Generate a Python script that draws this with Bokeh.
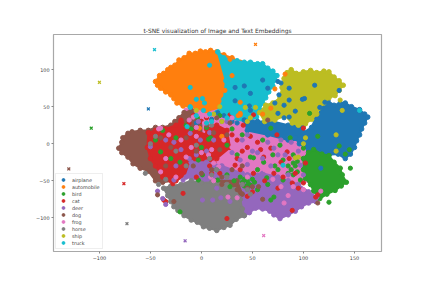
from bokeh.plotting import figure
from bokeh.embed import file_html
from bokeh.resources import INLINE
from bokeh.models import FixedTicker, Legend, LegendItem, Range1d

classes = ["airplane","automobile","bird","cat","deer","dog","frog","horse","ship","truck"]
colors = {"airplane":"#1f77b4","automobile":"#ff7f0e","bird":"#2ca02c","cat":"#d62728","deer":"#9467bd",
          "dog":"#8c564b","frog":"#e377c2","horse":"#7f7f7f","ship":"#bcbd22","truck":"#17becf"}
x_ticks = [-100,-50,0,50,100,150]
y_ticks = [-100,-50,0,50,100]

# dense regions of the point cloud (class, outline)
regions = [
 ("frog",[(-15,45),(10,48),(35,40),(50,32),(70,15),(100,5),(108,-20),(105,-50),(60,-60),(20,-55),(-5,-45),(-10,0)]),
 ("automobile",[(-45,84),(-41,92),(-37,95),(-33,100),(-30,103),(-26,106),(-22,113),(-17,116),(-12,122),(-6,122),(-1,125),(4,124),(9,126),(15,124),(22,120),(30,116),(38,110),(38,80),(35,60),(20,50),(5,44),(-5,48),(-11,50),(-18,51),(-24,55),(-27,61),(-30,66),(-35,70),(-40,75),(-43,79)]),
 ("truck",[(16,124),(22,116),(28,113),(35,112),(42,110),(48,110),(55,108),(60,108),(65,102),(70,98),(74,92),(72,86),(70,78),(66,70),(63,62),(60,55),(57,46),(54,36),(45,30),(30,34),(15,42),(22,60),(24,85)]),
 ("airplane",[(42,32),(55,30),(70,30),(85,25),(92,28),(100,25),(100,5),(85,5),(65,12),(45,18)]),
 ("airplane",[(124,58),(130,52),(136,55),(141,55),(147,50),(155,46),(160,40),(163,36),(160,28),(157,20),(155,12),(152,4),(150,-5),(146,-14),(141,-20),(134,-14),(125,-15),(115,-10),(105,-8),(96,0),(92,8),(100,15),(108,22),(112,35),(118,48)]),
 ("ship",[(84,96),(88,100),(93,95),(100,97),(107,99),(113,96),(120,98),(125,97),(130,90),(135,85),(139,79),(135,72),(131,65),(125,62),(120,55),(115,48),(113,40),(108,33),(102,27),(95,25),(89,28),(82,38),(72,32),(62,30),(57,42),(63,52),(70,55),(77,62),(79,76),(81,88)]),
 ("bird",[(100,-20),(105,-12),(110,-8),(118,-14),(125,-16),(130,-25),(136,-33),(138,-42),(142,-52),(137,-57),(131,-63),(123,-68),(116,-74),(110,-64),(107,-55),(102,-47),(100,-35)]),
 ("dog",[(-81,-6),(-78,2),(-77,8),(-72,14),(-68,16),(-60,18),(-52,18),(-45,22),(-38,22),(-30,25),(-26,30),(-22,35),(-17,42),(-10,45),(0,30),(0,0),(-20,-35),(-28,-50),(-38,-52),(-45,-50),(-52,-37),(-60,-33),(-67,-27),(-72,-18),(-78,-12)]),
 ("cat",[(-52,15),(-45,18),(-35,20),(-25,25),(-20,30),(-10,20),(5,12),(10,0),(12,-25),(0,-35),(-15,-42),(-25,-50),(-38,-45),(-45,-30),(-50,-20),(-53,-5)]),
 ("deer",[(35,-48),(45,-42),(60,-40),(75,-45),(85,-50),(95,-55),(105,-65),(113,-72),(112,-78),(105,-80),(98,-85),(92,-91),(85,-96),(77,-101),(71,-96),(67,-91),(60,-88),(53,-87),(47,-93),(42,-97),(38,-88),(36,-70)]),
 ("deer",[(-10,-25),(5,-25),(20,-30),(40,-40),(35,-50),(25,-55),(0,-50),(-15,-45)]),
 ("cat",[(5,20),(15,25),(25,18),(28,-5),(15,-20),(3,-15)]),
 ("dog",[(15,-50),(35,-50),(40,-68),(25,-70),(15,-62)]),
 ("horse",[(-37,-60),(-30,-57),(-20,-55),(-10,-50),(0,-53),(10,-52),(25,-55),(33,-62),(38,-75),(40,-88),(42,-97),(34,-102),(28,-110),(22,-113),(15,-117),(8,-114),(2,-112),(-4,-106),(-10,-103),(-17,-97),(-23,-90),(-27,-85),(-30,-78),(-33,-70)]),
]

# isolated points
strays = {
 "airplane":[(33,76),(42,78),(48,68),(33,58),(47,51),(48,45),(60,86),(65,75),(75,84),(78,82),(76,66),(86,75),(72,55),(81,52),(86,59),(75,41),(111,79),(101,61),(99,60),(135,72),(121,56),(116,49),(92,44),(86,36),(81,35),(117,-33),(16,42),(22,38),(30,30),(-5,28),(10,33),(35,28)],
 "automobile":[(28,114),(30,92),(23,72),(38,56),(38,39),(82,94),(68,48),(72,74),(38,41),(-2,21),(60,40),(36,38),(20,10)],
 "bird":[(40,-52),(45,-50),(48,-56),(42,-57),(50,-48),(51,-19),(64,-46),(71,-72),(90,-26),(94,-24),(97,-49),(94,-38),(80,-49),(68,-76),(-38,18),(-40,-11),(-21,-25),(-4,36),(9,8),(7,6),(-3,-22),(48,-18),(61,-25),(77,-2),(100,-6),(90,-15),(87,8),(68,21),(25,-2),(-21,-92),(-3,-49),(16,-49),(28,-58),(1,-42),(146,-33),(125,-79),(114,10),(106,41),(141,-14),(135,-3),(145,-8),(30,20),(40,12),(35,-15),(55,-35),(72,-30),(85,-40),(90,-42),(-10,20),(0,-5),(-15,25),
          (42,-48),(46,-54),(52,-52),(38,-45),(85,-30),(88,-35),(92,-30),(80,-22),(75,-35),(60,5),(70,-15),(18,38),(5,22),(-30,-20),(-25,8),(-45,5),(15,-35),(25,-42),(32,-50),(65,-55),(55,-62)],
 "cat":[(50,-65),(45,-71),(33,-29),(51,-40),(89,-53),(89,-90),(100,-53),(102,-26),(114,-69),(71,-40),(61,-18),(55,2),(68,-6),(74,12),(41,25),(28,39),(51,39),(100,21),(84,-11),(-35,-78),(-37,-76),(25,-101),(-18,-67),(35,5),(45,-5),(0,30),(5,35),(-20,32),(-30,-50),(10,-40),(78,-25),(112,-72),
         (35,-20),(38,-35),(-5,-45),(18,-40),(62,-50),(80,-45),(48,10),(58,-8),(92,-40),(86,-20),(8,-30),(30,12),(-12,28),(-8,38),(40,-10),(75,-60),(95,-60),(-28,-54)],
 "deer":[(-43,-64),(-38,-74),(-35,-82),(-50,-4),(-27,2),(-11,14),(-1,5),(19,-73),(11,-76),(1,-76),(28,-78),(-27,-49),(-18,-49),(65,2),(71,-6),(97,-29),(82,-15),(40,5),(45,12),(20,30),(5,-10),(12,5),(-5,-15),(60,-20),(50,-10),(15,-60),
          (-35,5),(-20,-8),(-12,-20),(8,15),(30,-12),(38,-22),(45,-28),(55,-12),(75,-15),(88,2),(95,-10),(78,5),(-3,30),(25,30),(-8,-30),(-25,-30),(68,-30),(85,-42),(100,-42)],
 "dog":[(-43,-69),(-27,-78),(65,32),(114,-80),(56,-58),(10,-35),(18,-8),(0,-40),(-5,-10),(30,-35),(40,-30),(5,25),(35,-62),(20,-45),(60,-75),
        (-30,-5),(-15,8),(-40,8),(-8,-30),(12,15),(25,12),(28,28),(15,35),(20,-55),(40,-55),(45,-60),(50,-58),(-35,-30)],
 "frog":[(-40,21),(-42,20),(-8,36),(-3,40),(-12,32),(7,-15),(12,-26),(17,-31),(9,-45),(26,-72),(35,-73),(-40,-38),(-25,-45),(117,-64),(81,-80),(-20,5),(-10,-5),(0,-12),(30,35),(-5,22),
         (-32,12),(-15,-18),(-35,-20),(22,5),(30,-5),(10,-8),(-5,10),(3,28),(5,38),(62,-35),(70,-48),(90,-58),(100,-62),(45,-45),(85,-70),(78,-58),(12,-50)],
 "horse":[(8,-20),(-5,-2),(15,-35),(-25,-10),(-50,0),(10,25),(40,-55),(-45,10),(-15,-30),(45,-62),(-42,-55),(-35,-48),(10,-42),(-55,-40),(48,-68),(25,-45)],
 "ship":[(136,59),(138,45),(132,12),(53,49),(43,49),(18,50),(132,-10),(100,0),(92,-19),(95,-18),(20,30),(45,30),(-5,45),(48,35),(12,40),(102,8)],
 "truck":[(80,-29),(-11,49),(-14,23),(8,106),(1,61),(-11,50),(-11,76),(155,45),(30,42),(10,30),(25,35),(5,28),(-5,60),(3,55),(2,45),(8,40),(-5,38)],
}

# one text-embedding point per class
cross_x = [-52,53,-108,-76,-16,-130,61,-73,-100,-46]
cross_y = [47,134,21,-54,-131,-34,-124,-108,83,127]

p = figure(width=410, height=271, output_backend="svg", toolbar_location=None,
           x_range=Range1d(-145,176.5), y_range=Range1d(-145.5,147.5),
           min_border_left=53, min_border_right=29, min_border_top=34, min_border_bottom=20,
           title="t-SNE visualization of Image and Text Embeddings")
p.title.align="center"; p.title.text_font="DejaVu Sans"; p.title.text_font_size="5.9px"
p.title.text_font_style="normal"; p.title.text_color="#333333"; p.title.standoff=1
p.grid.visible=False
p.outline_line_color="#a8a8a8"; p.outline_line_width=1.2
for ax,t in ((p.xaxis,x_ticks),(p.yaxis,y_ticks)):
    ax.ticker=FixedTicker(ticks=t)
    ax.axis_line_color=None; ax.minor_tick_line_color=None
    ax.major_tick_in=0; ax.major_tick_out=2; ax.major_tick_line_color="#888888"; ax.major_tick_line_width=1
    ax.major_label_text_font="DejaVu Sans"; ax.major_label_text_font_size="4.9px"
    ax.major_label_text_color="#444444"; ax.major_label_standoff=2
MS=4.2
for c,pts in regions:
    xs=[a for a,b in pts]; ys=[b for a,b in pts]
    p.patch(xs,ys,fill_color=colors[c],line_color=colors[c],line_width=2)
    p.scatter(xs,ys,size=MS+0.4,color=colors[c])
items=[]
for c in classes:
    r=p.scatter([a for a,b in strays[c]],[b for a,b in strays[c]],size=MS,color=colors[c])
    items.append(LegendItem(label=c,renderers=[r]))
for i,c in enumerate(classes):
    p.scatter([cross_x[i]],[cross_y[i]],marker="x",size=4,line_color=colors[c],line_width=1.3)
leg=Legend(items=items,location="bottom_left",margin=2,padding=2,spacing=0,label_height=7,glyph_height=7,glyph_width=10,
           label_standoff=4,label_text_font="DejaVu Sans",label_text_font_size="4.9px",label_text_color="#444444",
           border_line_color="#dddddd",border_line_width=1,background_fill_alpha=0.85)
p.add_layout(leg)
open("out.html","w").write(file_html(p,INLINE))
